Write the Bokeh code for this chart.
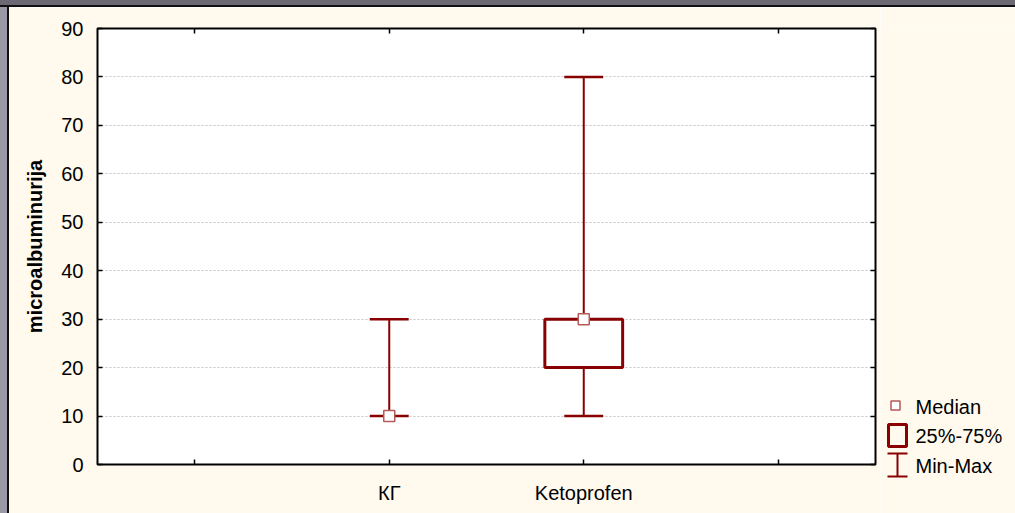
from bokeh.plotting import figure
from bokeh.models import (ColumnDataSource, FixedTicker, LinearAxis, Range1d, Grid, Spacer)
from bokeh.layouts import row, column
from bokeh.embed import file_html
from bokeh.resources import INLINE

# ---- data ----
groups = ["КГ", "Ketoprofen"]
group_slot = [1, 2]            # slot index among 4 category slots
minimum = [10, 10]
maximum = [30, 80]
q1 = [10, 20]
q3 = [10, 30]
median = [10, 30]
x_tick_slots = [0, 1, 2, 3]
y_ticks = [0, 10, 20, 30, 40, 50, 60, 70, 80, 90]
y_label = "microalbuminurija"
legend_labels = ["Median", "25%-75%", "Min-Max"]

MAROON = "#880000"
MED_EDGE = "#B45A5A"
CREAM = "#FFF9EE"
FONT = "Liberation Sans"

xs = [s + 0.5 for s in group_slot]
src = ColumnDataSource(dict(x=xs, lo=minimum, hi=maximum, q1=q1, q3=q3, med=median,
                            cl=[x - 0.1 for x in xs], cr=[x + 0.1 for x in xs]))
box_idx = [i for i in range(len(xs)) if q3[i] > q1[i]]
box_src = ColumnDataSource(dict(l=[xs[i] - 0.2 for i in box_idx], r=[xs[i] + 0.2 for i in box_idx],
                                b=[q1[i] for i in box_idx], t=[q3[i] for i in box_idx]))

TOP_BAND = 7
LEFT_BAND = 9
FRAME_TOP = 28
p = figure(frame_width=778, frame_height=436, min_border_left=97 - LEFT_BAND, min_border_right=5,
           min_border_top=FRAME_TOP - TOP_BAND, min_border_bottom=49,
           x_range=Range1d(0, 4), y_range=Range1d(0, 90),
           output_backend="svg", toolbar_location=None, x_axis_location=None, y_axis_location=None)
p.border_fill_color = CREAM
p.background_fill_color = "white"
p.outline_line_color = "black"
p.outline_line_width = 2
p.xgrid.visible = False
p.ygrid.visible = False


def style_axis(ax):
    ax.axis_line_color = None
    ax.major_tick_in = 5
    ax.major_tick_out = 0
    ax.minor_tick_in = 5
    ax.minor_tick_out = 0
    ax.major_tick_line_color = "black"
    ax.minor_tick_line_color = "black"
    ax.major_tick_line_width = 1.5
    ax.minor_tick_line_width = 1.5
    ax.major_label_text_font = FONT
    ax.major_label_text_color = "black"
    ax.major_label_text_font_size = "20px"


all_xt = [s + 0.5 for s in x_tick_slots]
lab_xt = xs
other_xt = [t for t in all_xt if t not in lab_xt]

bottom = LinearAxis(ticker=FixedTicker(ticks=lab_xt, minor_ticks=other_xt))
bottom.major_label_overrides = {t: g for t, g in zip(lab_xt, groups)}
style_axis(bottom)
bottom.major_label_standoff = 17
p.add_layout(bottom, "below")

top = LinearAxis(ticker=FixedTicker(ticks=[], minor_ticks=all_xt))
style_axis(top)
p.add_layout(top, "above")

left = LinearAxis(ticker=FixedTicker(ticks=y_ticks))
style_axis(left)
left.major_label_standoff = 14
left.axis_label = y_label
left.axis_label_text_font = FONT
left.axis_label_text_font_style = "bold"
left.axis_label_text_font_size = "20px"
left.axis_label_text_color = "black"
left.axis_label_standoff = 12
p.add_layout(left, "left")

right = LinearAxis(ticker=FixedTicker(ticks=[], minor_ticks=y_ticks))
style_axis(right)
p.add_layout(right, "right")

grid = Grid(dimension=1, ticker=FixedTicker(ticks=y_ticks[1:-1]))
grid.grid_line_color = "#C4C4C4"
grid.grid_line_dash = "2 2"
grid.grid_line_width = 1
p.add_layout(grid)

# whiskers, boxes, caps, medians
p.segment(x0="x", y0="lo", x1="x", y1="hi", source=src, line_color=MAROON, line_width=2)
p.quad(left="l", right="r", bottom="b", top="t", source=box_src, fill_color="white",
       line_color=MAROON, line_width=3)
p.segment(x0="cl", y0="lo", x1="cr", y1="lo", source=src, line_color=MAROON, line_width=2.5)
p.segment(x0="cl", y0="hi", x1="cr", y1="hi", source=src, line_color=MAROON, line_width=2.5)
p.scatter(x="x", y="med", source=src, marker="square", size=11, fill_color="white",
          line_color=MED_EDGE, line_width=1.5)

# ---- legend panel (pixel coordinates of the page) ----
LX0 = 97 + 778 + 5   # left edge of legend panel in page px
leg = figure(frame_width=1015 - LX0, frame_height=513 - FRAME_TOP,
             x_range=Range1d(LX0, 1015), y_range=Range1d(513, FRAME_TOP),
             min_border_left=0, min_border_right=0, min_border_top=FRAME_TOP - TOP_BAND,
             min_border_bottom=0,
             output_backend="svg", toolbar_location=None, x_axis_location=None, y_axis_location=None)
leg.border_fill_color = CREAM
leg.background_fill_color = CREAM
leg.outline_line_color = None
leg.xgrid.visible = False
leg.ygrid.visible = False

icon_x = 897
text_x = 915
row_y = [406, 435, 465]
leg.scatter(x=[icon_x - 2], y=[row_y[0] - 1], marker="square", size=9, fill_color="white",
            line_color=MED_EDGE, line_width=1.5)
leg.quad(left=[icon_x - 9], right=[icon_x + 9], top=[row_y[1] - 11], bottom=[row_y[1] + 11],
         fill_color=None, line_color=MAROON, line_width=3)
leg.segment(x0=[icon_x], y0=[row_y[2] - 12], x1=[icon_x], y1=[row_y[2] + 11],
            line_color=MAROON, line_width=2)
leg.segment(x0=[icon_x - 10, icon_x - 10], y0=[row_y[2] - 12, row_y[2] + 11],
            x1=[icon_x + 10, icon_x + 10], y1=[row_y[2] - 12, row_y[2] + 11],
            line_color=MAROON, line_width=2)
leg.text(x=[text_x] * 3, y=row_y, text=legend_labels, text_baseline="middle", text_align="left",
         text_font_size="20px", text_color="black", text_font={"value": FONT})

top_band = Spacer(width=1015, height=TOP_BAND,
                  styles={"background": "linear-gradient(to bottom, #6d6974 0px, #6d6974 5px, #111 5px, #111 7px)"})
left_band = Spacer(width=LEFT_BAND, height=513 - TOP_BAND,
                   styles={"background": "linear-gradient(to right, #9b99a6 0px, #9b99a6 7px, #111 7px, #111 9px)"})

layout = column(top_band, row(left_band, p, leg, spacing=0), spacing=0)
open("out.html", "w").write(file_html(layout, INLINE))
